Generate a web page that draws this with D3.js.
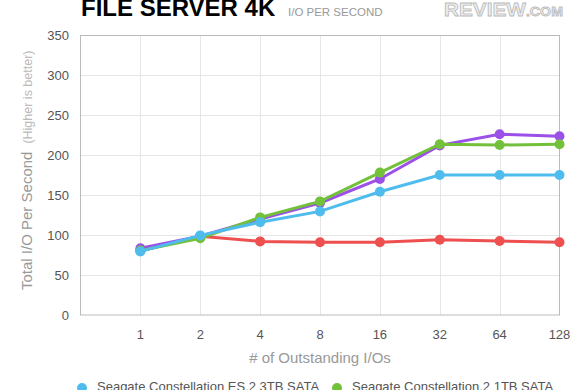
<!DOCTYPE html>
<html><head><meta charset="utf-8">
<script src="https://cdn.jsdelivr.net/npm/d3@7"></script>
<style>
html,body{margin:0;padding:0;background:#fff;overflow:hidden}
text{font-family:"Liberation Sans",Arial,Helvetica,sans-serif}
</style></head>
<body><svg id="c" width="580" height="390"></svg>
<script>
const xLabels = ["1","2","4","8","16","32","64","128"];
const yTicks = [0,50,100,150,200,250,300,350];
const seriesNames = ["Seagate Constellation ES.2 3TB SATA","Seagate Constellation.2 1TB SATA","Purple drive","Red drive"];
const redValues    = [80, 98.5, 92, 91, 91, 94, 92.5, 91];
const purpleValues = [83.5, 98.5, 120, 140, 170, 212, 226, 223.5];
const greenValues  = [80.5, 96, 122, 142, 178, 213.5, 212.5, 213.5];
const blueValues   = [79.5, 99.5, 116, 129.5, 154, 175, 175, 175];

const svg = d3.select("#c");
const L = 80.5, R = 559.5, T = 35, B = 315;
const x = d3.scaleLinear().domain([0, xLabels.length]).range([L, R]);
const y = d3.scaleLinear().domain([0, 350]).range([B, T]);

// shadow under the plot
const defs = svg.append("defs");
const rg = defs.append("radialGradient").attr("id","sh").attr("cx","50%").attr("cy","0%").attr("r","50%");
rg.append("stop").attr("offset","0%").attr("stop-color","#000").attr("stop-opacity",0.07);
rg.append("stop").attr("offset","100%").attr("stop-color","#000").attr("stop-opacity",0);
svg.append("ellipse").attr("cx",(L+R)/2).attr("cy",B).attr("rx",(R-L)/2).attr("ry",18).attr("fill","url(#sh)");
svg.append("rect").attr("x",L-2).attr("y",T-2).attr("width",R-L+4).attr("height",B-T+2).attr("fill","#fff");

// grid
svg.append("g").selectAll("line").data(yTicks.slice(1,-1)).join("line")
  .attr("x1",L).attr("x2",R).attr("y1",d=>Math.round(y(d))+0.5).attr("y2",d=>Math.round(y(d))+0.5)
  .attr("stroke","#e6e6e6");
svg.append("g").selectAll("line").data(xLabels.slice(0,-1)).join("line")
  .attr("x1",(d,i)=>Math.round(x(i+1))+0.5).attr("x2",(d,i)=>Math.round(x(i+1))+0.5)
  .attr("y1",T).attr("y2",B).attr("stroke","#e6e6e6");
svg.append("rect").attr("x",L).attr("y",T+0.5).attr("width",R-L).attr("height",B-T-0.5)
  .attr("fill","none").attr("stroke","#bbb");

// y ticks
svg.append("g").selectAll("text").data(yTicks).join("text")
  .attr("x",69).attr("y",d=>y(d)).attr("dy","0.35em").attr("text-anchor","end")
  .attr("font-size",13).attr("fill","#555").text(d=>d);
// x ticks
svg.append("g").selectAll("text").data(xLabels).join("text")
  .attr("x",(d,i)=>x(i+1)).attr("y",334).attr("dy","0.35em").attr("text-anchor","middle")
  .attr("font-size",13).attr("fill","#555").text(d=>d);

// axis titles
svg.append("text").attr("x",(L+R)/2).attr("y",358).attr("dy","0.35em").attr("text-anchor","middle")
  .attr("font-size",15).attr("fill","#999").text("# of Outstanding I/Os");
const yt = svg.append("text").attr("transform","translate(32,290) rotate(-90)").attr("font-size",15).attr("fill","#999");
yt.append("tspan").text("Total I/O Per Second");
yt.append("tspan").attr("dx",8).attr("font-size",12.5).attr("fill","#bbb").text("(Higher is better)");

// title
svg.append("text").attr("x",81).attr("y",16).attr("font-size",24).attr("font-weight","bold")
  .attr("fill","#000").text("FILE SERVER 4K");
svg.append("text").attr("x",288).attr("y",16).attr("font-size",11.5).attr("fill","#999").text("I/O PER SECOND");
const logo = svg.append("text").attr("x",444).attr("y",16).attr("font-size",19).attr("font-weight","bold")
  .attr("fill","#eee").attr("stroke","#bbb").attr("stroke-width",0.8).attr("textLength",119).attr("lengthAdjust","spacingAndGlyphs");
logo.append("tspan").text("REVIEW");
logo.append("tspan").attr("font-size",13).text(".COM");

// series
const series = [
  {vals:redValues, color:"#ee4f4f"},
  {vals:purpleValues, color:"#9b51e8"},
  {vals:greenValues, color:"#73c13b"},
  {vals:blueValues, color:"#4fbcee"}
];
const line = d3.line().x((d,i)=>x(i+1)).y(d=>y(d));
series.forEach(s=>{
  const g = svg.append("g");
  g.append("path").attr("d",line(s.vals)).attr("fill","none").attr("stroke",s.color).attr("stroke-width",3);
  g.selectAll("circle").data(s.vals).join("circle")
    .attr("cx",(d,i)=>x(i+1)).attr("cy",d=>y(d)).attr("r",5).attr("fill",s.color);
});

// legend (clipped at bottom as in reference)
const legend = [
  {name:seriesNames[0], color:"#4fbcee", x:82},
  {name:seriesNames[1], color:"#73c13b", x:337}
];
legend.forEach(l=>{
  svg.append("circle").attr("cx",l.x).attr("cy",388).attr("r",5).attr("fill",l.color);
  svg.append("text").attr("x",l.x+15).attr("y",391).attr("font-size",13).attr("fill","#555").text(l.name);
});
</script></body></html>
